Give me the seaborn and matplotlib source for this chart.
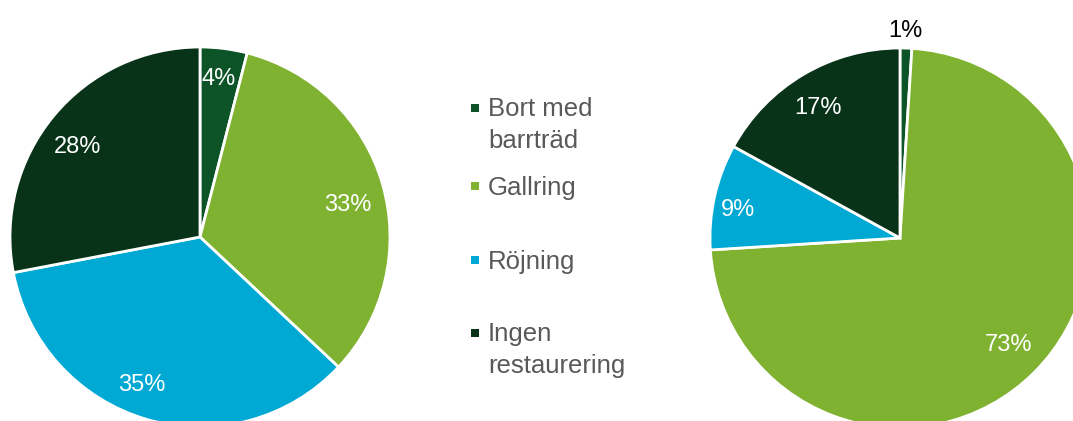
import matplotlib
matplotlib.use("Agg")
import matplotlib.pyplot as plt
import numpy as np
import seaborn as sns

categories = ["Bort med\nbarrträd", "Gallring", "Röjning", "Ingen\nrestaurering"]
left_values = [4, 33, 35, 28]
right_values = [1, 73, 9, 17]
colors = ["#0C5427", "#7FB230", "#00A8D4", "#093318"]

sns.set_theme(style="white")
plt.rcParams["font.family"] = ["Liberation Sans", "DejaVu Sans"]

W, H = 1073, 421
fig = plt.figure(figsize=(W / 100, H / 100), dpi=100)

# label placement (radius fraction, angle in degrees) per slice
left_label_pos = [(0.856, 83.3), (0.80, 13.5), (0.82, -112.0), (0.81, 142.8)]
right_label_pos = [(1.105, 88.6), (0.79, -43.7), (0.87, 169.2), (0.82, 121.7)]


def pie_axes(cx, cy, r):
    return fig.add_axes([(cx - r) / W, (H - cy - r) / H, 2 * r / W, 2 * r / H])


def draw_pie(ax, values, label_pos, outside=()):
    ax.pie(values, colors=colors, startangle=90, counterclock=False,
           radius=1, wedgeprops=dict(edgecolor="white", linewidth=2.0),
           frame=False)
    ax.set_xlim(-1, 1)
    ax.set_ylim(-1, 1)
    ax.set_aspect("equal")
    ax.axis("off")
    for i, v in enumerate(values):
        r, ang = label_pos[i]
        col = "black" if i in outside else "white"
        x = r * np.cos(np.radians(ang))
        y = r * np.sin(np.radians(ang))
        ax.annotate(f"{v}%", (x, y), xytext=(0, -2.2), textcoords="offset points",
                    ha="center", va="center", color=col, fontsize=17,
                    annotation_clip=False)


ax1 = pie_axes(200, 237, 190)
draw_pie(ax1, left_values, left_label_pos)

ax2 = pie_axes(900, 238, 190)
draw_pie(ax2, right_values, right_label_pos, outside=(0,))

# legend
legend_rows = [108, 186, 260, 333]
for cat, col, y in zip(categories, colors, legend_rows):
    fig.patches.append(plt.Rectangle((471 / W, (H - y - 4) / H), 8 / W, 8 / H,
                                     transform=fig.transFigure, facecolor=col,
                                     edgecolor="none"))
    for k, line in enumerate(cat.split("\n")):
        fig.text(488 / W, (H - y - 31 * k - 1.5) / H, line, ha="left", va="center",
                 color="#595959", fontsize=18.5)

fig.savefig("out.png", dpi=100)
